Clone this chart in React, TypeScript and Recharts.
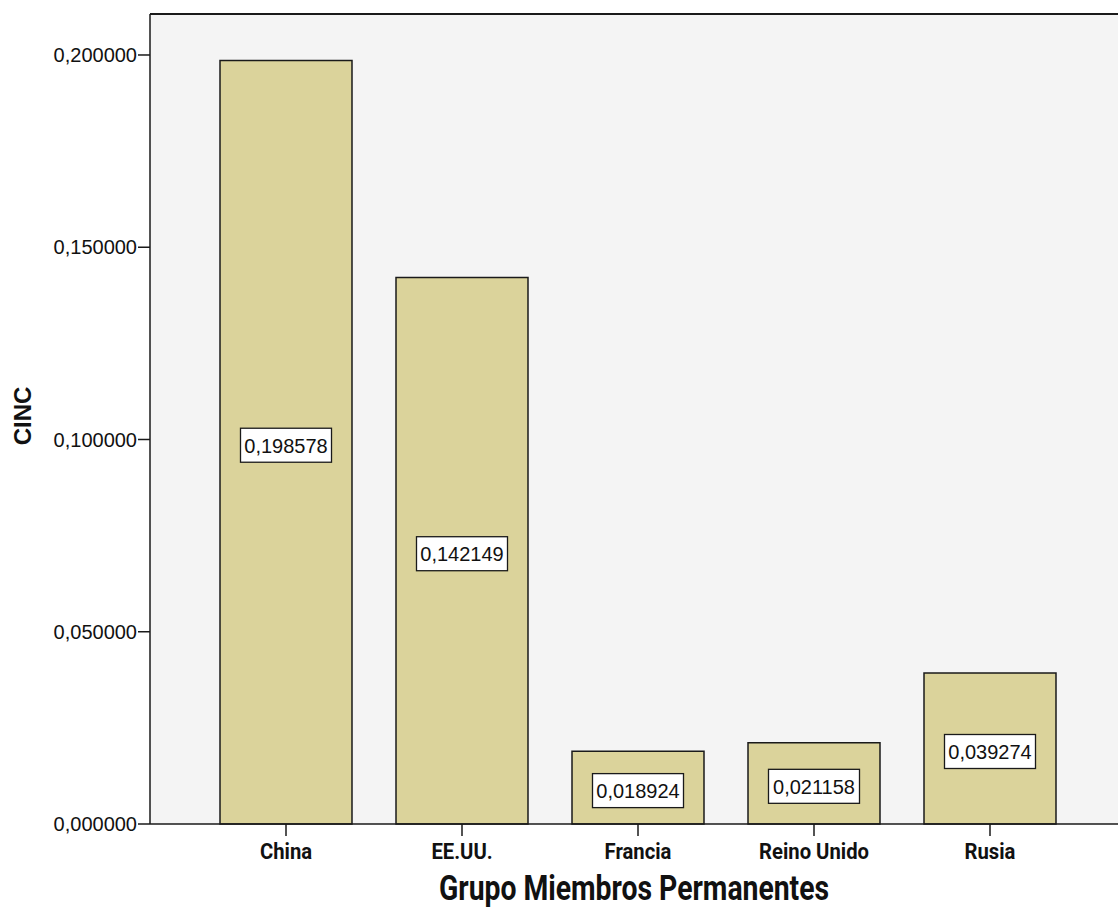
import React from 'react';
import { BarChart, Bar, XAxis, YAxis, CartesianGrid, ReferenceLine, LabelList } from 'recharts';

const categories = ['China', 'EE.UU.', 'Francia', 'Reino Unido', 'Rusia'];
const cincValues = [0.198578, 0.142149, 0.018924, 0.021158, 0.039274];
const yTicks = [0, 0.05, 0.1, 0.15, 0.2];
const yMax = 0.21066;

const data = categories.map((c, i) => ({ name: c, value: cincValues[i] }));

const fmt = (v: number) => v.toFixed(6).replace('.', ',');

const ARIAL = "'Liberation Sans', Arial, sans-serif";

const BoxLabel = (props: any) => {
  const { x, y, width, height, value } = props;
  const cx = x + width / 2;
  const cy = y + height / 2 + 3;
  const w = 91;
  const h = 34;
  return (
    <g>
      <rect x={cx - w / 2} y={cy - h / 2} width={w} height={h} fill="#ffffff" stroke="#1a1a1a" strokeWidth={1.3} />
      <text x={cx} y={cy + 7.5} textAnchor="middle" fontFamily={ARIAL} fontSize={20} fill="#111">
        {fmt(value)}
      </text>
    </g>
  );
};

const XTick = (props: any) => {
  const { x, y, payload } = props;
  return (
    <g transform={`translate(${x},${y})`}>
      <text
        x={0}
        y={23}
        transform="scale(0.9,1)"
        textAnchor="middle"
        fontFamily="Roboto, sans-serif"
        fontWeight={700}
        fontSize={22.5}
        fill="#111"
      >
        {payload.value}
      </text>
    </g>
  );
};

const XTitle = (props: any) => {
  const { viewBox } = props;
  const cx = viewBox.x + viewBox.width / 2;
  return (
    <g transform={`translate(${cx},${viewBox.y + 76})`}>
      <text x={0} y={0} transform="scale(0.81,1)" textAnchor="middle" fontFamily="Roboto, sans-serif" fontWeight={700} fontSize={35} fill="#111">
        Grupo Miembros Permanentes
      </text>
    </g>
  );
};

const YTitle = (props: any) => {
  const { viewBox } = props;
  const cy = viewBox.y + viewBox.height / 2 - 3;
  const bx = 31;
  return (
    <text x={bx} y={cy} transform={`rotate(-90, ${bx}, ${cy})`} textAnchor="middle" fontFamily={ARIAL} fontWeight={700} fontSize={24} fill="#111">
      CINC
    </text>
  );
};

export default function App() {
  return (
    <div style={{ position: 'absolute', left: 0, top: 0, width: 1118, height: 912, background: '#fff' }}>
      <BarChart
        width={1118}
        height={912}
        data={data}
        margin={{ top: 14, right: 0, bottom: 0, left: 0 }}
        barCategoryGap="12.5%"
      >
        <CartesianGrid horizontal={false} vertical={false} fill="#f4f4f4" />
        <XAxis
          dataKey="name"
          padding={{ left: 48, right: 40 }}
          height={88}
          stroke="#1a1a1a"
          strokeWidth={1.5}
          tickSize={12}
          tickMargin={0}
          tick={<XTick />}
          interval={0}
          label={<XTitle />}
        />
        <YAxis
          width={150}
          domain={[0, yMax]}
          ticks={yTicks}
          stroke="#1a1a1a"
          strokeWidth={1.5}
          tickSize={12}
          tickMargin={1}
          tickFormatter={fmt}
          tick={{ fill: '#111', fontFamily: ARIAL, fontSize: 20 }}
          label={<YTitle />}
        />
        <ReferenceLine y={yMax} stroke="#1a1a1a" strokeWidth={2} ifOverflow="extendDomain" />
        <Bar dataKey="value" fill="#dbd39b" stroke="#1a1a1a" strokeWidth={1.5} isAnimationActive={false}>
          <LabelList dataKey="value" content={BoxLabel} />
        </Bar>
      </BarChart>
    </div>
  );
}
